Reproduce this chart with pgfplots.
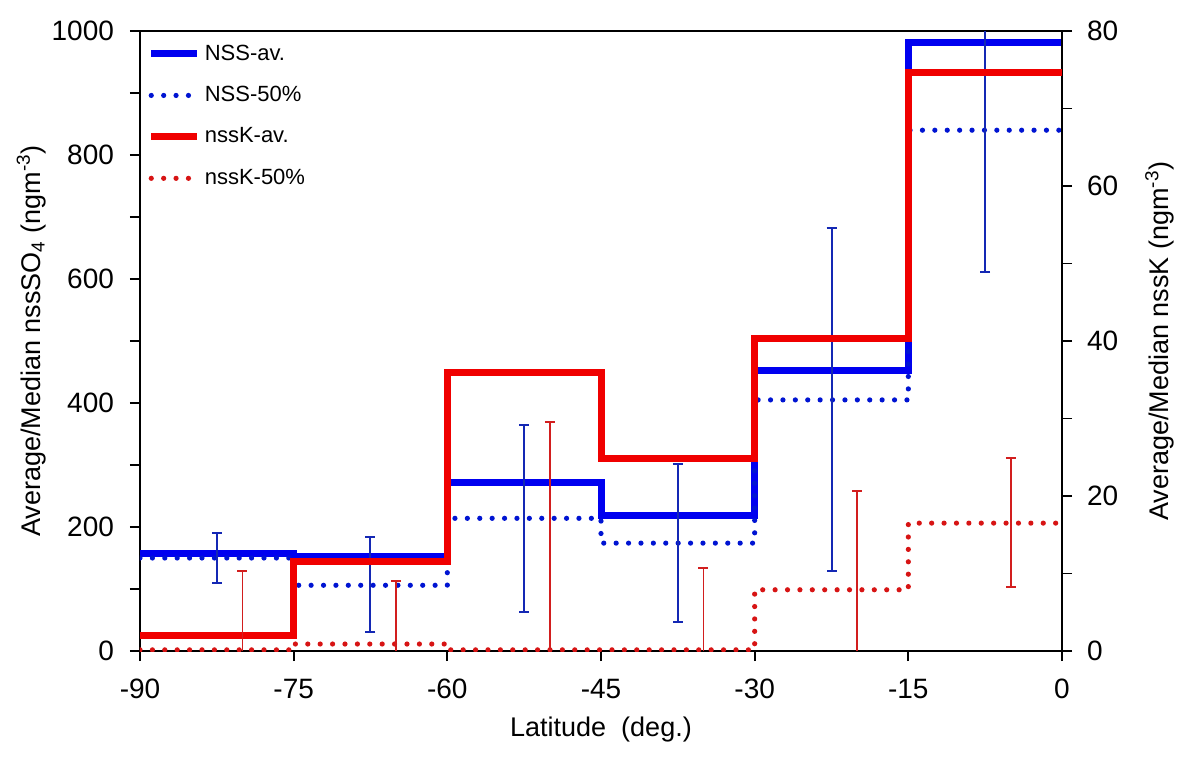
\documentclass[border=0pt]{standalone}
\usepackage{pgfplots}
\pgfplotsset{compat=1.18}
\usepackage{fontspec}
\setmainfont{Liberation Sans}
\definecolor{cblue}{RGB}{0,0,240}
\definecolor{cbluedot}{RGB}{0,20,210}
\definecolor{cblueerr}{RGB}{20,40,180}
\definecolor{cred}{RGB}{240,0,0}
\definecolor{creddot}{RGB}{215,20,20}
\definecolor{crederr}{RGB}{210,30,30}
\pgfplotsset{
  common/.style={
    scale only axis, width=461pt, height=310pt,
    at={(0,0)}, anchor=south west,
    xmin=-90, xmax=0,
    tick align=outside,
    major tick length=5pt, minor tick length=5pt,
    every tick/.style={black, line width=0.9pt},
    axis line style={line width=1pt},
    tick label style={font=\fontsize{14}{16}\selectfont},
    /pgf/number format/assume math mode=true,
    /pgf/number format/1000 sep={},
    label style={font=\fontsize{13.5}{15}\selectfont},
  },
  dotline/.style={line width=2.6pt, line cap=round, dash pattern=on 0pt off 6.2pt},
  errplot/.style={only marks, mark=text, text mark={}, forget plot},
}
\begin{document}
\begin{tikzpicture}
\path[use as bounding box] (-70pt,-55pt) rectangle (530pt,325.5pt);
\begin{axis}[common,
  ymin=0, ymax=1000,
  ytick={0,200,...,1000}, minor y tick num=1,
  xtick={-90,-75,...,0},
  xtick pos=bottom, ytick pos=left,
  yticklabel style={xshift=-4.5pt},
  xticklabel style={yshift=-5.5pt},
  xlabel={Latitude\ \ (deg.)},
  ylabel={Average/Median nssSO\textsubscript{4} (ngm\textsuperscript{-3})},
  xlabel style={at={(axis description cs:0.5,-0.127)}, anchor=center},
  ylabel style={at={(axis description cs:-0.118,0.5)}, anchor=center},
  legend style={at={(rel axis cs:0.008,0.985)}, anchor=north west, draw=none, fill=none,
    font=\fontsize{11}{13}\selectfont, row sep=7.6pt, inner sep=0pt,
    nodes={inner sep=2pt}},
  legend cell align=left,
  legend image code/.code={\draw[#1] (0pt,0pt) -- (23pt,0pt);},
]
\addplot[const plot, cblue, line width=3.5pt] coordinates {
  (-90,158) (-75,153) (-60,271) (-45,219) (-30,452) (-15,981) (0,981)};
\addplot[const plot, cbluedot, dotline] coordinates {
  (-90,150) (-75,106) (-60,214) (-45,174) (-30,405) (-15,840) (0,840)};
\addlegendimage{cred, line width=3.5pt}
\addlegendimage{creddot, dotline}
\legend{NSS-av., NSS-50\%, nssK-av., nssK-50\%}
\addplot[errplot,
  error bars/.cd, y dir=both, y explicit,
  error bar style={cblueerr, line width=1pt},
  error mark options={cblueerr, line width=1pt, mark size=2.5pt, rotate=90}]
  table[x=x, y=y, y error plus=ep, y error minus=em] {
  x      y    ep   em
  -82.5  150  40   40
  -67.5  106  78   75
  -52.5  214  151  151
  -37.5  174  127  127
  -22.5  405  277  276
};
\addplot[errplot,
  error bars/.cd, y dir=minus, y explicit,
  error bar style={cblueerr, line width=1pt},
  error mark options={cblueerr, line width=1pt, mark size=2.5pt, rotate=90}]
  table[x=x, y=y, y error minus=em] {
  x     y     em
  -7.5  1000  389
};
\end{axis}
\begin{axis}[common,
  ymin=0, ymax=80,
  ytick={0,20,...,80}, minor y tick num=1,
  axis y line*=right, axis x line=none,
  yticklabel style={xshift=4pt},
  ylabel={Average/Median nssK (ngm\textsuperscript{-3})},
  ylabel style={at={(axis description cs:1.106,0.5)}, anchor=center},
]
\addplot[const plot, cred, line width=3.5pt] coordinates {
  (-90,2) (-75,11.5) (-60,35.9) (-45,24.9) (-30,40.3) (-15,74.6) (0,74.6)};
\addplot[const plot, creddot, dotline] coordinates {
  (-90,0.15) (-75,0.9) (-60,0.15) (-45,0.15) (-30,7.9) (-15,16.5) (0,16.5)};
\addplot[errplot,
  error bars/.cd, y dir=plus, y explicit,
  error bar style={crederr, line width=0.9pt},
  error mark options={crederr, line width=0.9pt, mark size=2.5pt, rotate=90}]
  table[x=x, y=y, y error plus=ep] {
  x    y  ep
  -80  0  10.3
  -65  0  9.0
  -50  0  29.5
  -35  0  10.7
  -20  0  20.6
};
\addplot[errplot,
  error bars/.cd, y dir=both, y explicit,
  error bar style={crederr, line width=0.9pt},
  error mark options={crederr, line width=0.9pt, mark size=2.5pt, rotate=90}]
  table[x=x, y=y, y error plus=ep, y error minus=em] {
  x   y     ep   em
  -5  16.6  8.3  8.3
};
\end{axis}
\end{tikzpicture}
\end{document}
